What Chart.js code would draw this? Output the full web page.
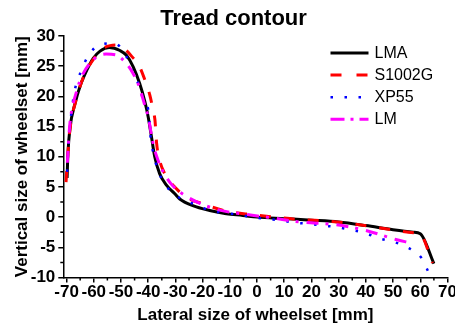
<!DOCTYPE html>
<html>
<head>
<meta charset="utf-8">
<script src="https://cdn.jsdelivr.net/npm/chart.js@4.4.0/dist/chart.umd.min.js"></script>
<style>
    html, body { margin: 0; padding: 0; background: #fff; }
    #wrap { width: 455px; height: 325px; position: relative; }
</style>
</head>
<body>
<div id="wrap"><canvas id="chart"></canvas></div>
<script>
const X_TICKS = [-70, -60, -50, -40, -30, -20, -10, 0, 10, 20, 30, 40, 50, 60, 70];
const Y_TICKS = [-10, -5, 0, 5, 10, 15, 20, 25, 30];

// values, lateral [mm] / vertical [mm]
const LMA_X = [-69.8, -69.5, -68.7, -66.9, -65.1, -62.6, -60.2, -57.7, -54.3, -50.4, -48.0, -45.5, -43.1, -41.2, -40.0, -38.8, -37.6, -35.8, -33.3, -30.3, -28.4, -23.6, -17.4, -11.3, -5.2, 0, 10, 20, 30, 40, 50, 57.4, 60, 65];
const LMA_Y = [6.5, 10.5, 14.9, 18.8, 21.6, 24.3, 26.3, 27.5, 28.1, 27.6, 26.8, 24.9, 22.1, 19.1, 16.6, 13.3, 10.0, 7.2, 5.3, 3.9, 3.0, 1.9, 1.1, 0.56, 0.28, 0, -0.25, -0.5, -0.8, -1.4, -2.1, -2.5, -2.75, -7.7];

const S1002G_X = [-70.2, -69.6, -68.7, -66.5, -63.8, -60.8, -57.1, -54.0, -51.0, -48.0, -45.8, -43.7, -41.2, -39.4, -38.2, -37.5, -36.9, -35.8, -33.9, -29.6, -26.0, -19.9, -11.3, -1.6, 6.4, 15.5, 22.9, 33.2, 41.2, 51.0, 57.5, 60.0, 64.5];
const S1002G_Y = [5.8, 10.0, 14.7, 19.4, 23.2, 25.7, 27.8, 28.4, 28.5, 27.6, 26.5, 25.4, 22.7, 20.2, 17.7, 16.0, 12.2, 9.4, 7.2, 4.7, 3.3, 2.2, 1.0, 0.4, 0.0, -0.4, -0.55, -1.0, -1.5, -2.2, -2.6, -2.8, -7.6];

const XP55_X = [-69.8, -69.3, -68.3, -66.6, -64.8, -62.2, -57.5, -52.6, -48.0, -45.8, -42.7, -41.9, -39.7, -39.4, -37.6, -36.0, -33.1, -27.8, -22.6, -17.4, -12.2, -6.8, -1.6, 3.6, 8.8, 14.0, 18.9, 24.1, 29.3, 34.5, 39.7, 44.8, 50.1, 55.2, 60.5, 63.1];
const XP55_Y = [7.5, 12.0, 17.0, 21.8, 24.0, 26.6, 28.6, 28.8, 26.6, 24.0, 21.0, 19.4, 17.1, 14.6, 9.7, 7.3, 5.0, 3.0, 2.1, 1.1, 0.7, 0.4, 0, -0.3, -0.55, -0.93, -1.1, -1.4, -1.65, -2.1, -2.65, -3.5, -4.1, -5.0, -6.8, -9.2];

const LM_X = [-69.7, -69.2, -68.7, -66.2, -64.2, -59.6, -55.5, -52.0, -48.5, -45.3, -43.7, -40.9, -40.0, -38.2, -37.0, -34.5, -31.2, -25.4, -15.0, -4.0, 5.2, 15.5, 29.0, 40.0, 51.0, 56.5];
const LM_Y = [9.0, 13.0, 15.8, 21.0, 23.5, 26.3, 27.0, 26.9, 25.7, 23.6, 22.1, 18.0, 16.6, 12.2, 10.2, 7.5, 5.3, 3.3, 1.3, 0.45, -0.1, -0.8, -1.26, -2.2, -3.7, -4.3];

const FONT = '"Liberation Sans", Arial, sans-serif';

function points(xs, ys) {
    return xs.map((x, i) => ({ x, y: ys[i] }));
}

// Origin-style minor ticks halfway between the labelled ones
const minorTicks = {
    id: 'minorTicks',
    afterDraw(chart) {
        const { ctx, chartArea, scales } = chart;
        ctx.save();
        ctx.strokeStyle = '#000';
        ctx.lineWidth = 1.5;
        ctx.beginPath();
        for (let i = 0; i < X_TICKS.length - 1; i++) {
            const px = scales.x.getPixelForValue((X_TICKS[i] + X_TICKS[i + 1]) / 2);
            ctx.moveTo(px, chartArea.bottom);
            ctx.lineTo(px, chartArea.bottom + 3);
        }
        for (let i = 0; i < Y_TICKS.length - 1; i++) {
            const py = scales.y.getPixelForValue((Y_TICKS[i] + Y_TICKS[i + 1]) / 2);
            ctx.moveTo(chartArea.left, py);
            ctx.lineTo(chartArea.left - 3, py);
        }
        ctx.stroke();
        ctx.restore();
    },
};

// legend sits inside the plot, top right
const insideLegend = {
    id: 'insideLegend',
    afterDraw(chart) {
        const { ctx, chartArea } = chart;
        const x0 = chartArea.right - 117;
        ctx.save();
        ctx.font = `16px ${FONT}`;
        ctx.textBaseline = 'middle';
        chart.data.datasets.forEach((ds, i) => {
            const y = chartArea.top + 17 + i * 22.1;
            ctx.strokeStyle = ds.borderColor;
            ctx.lineWidth = ds.borderWidth;
            ctx.setLineDash(ds.legendDash || []);
            ctx.beginPath();
            ctx.moveTo(x0, y);
            ctx.lineTo(x0 + 38, y);
            ctx.stroke();
            ctx.setLineDash([]);
            ctx.fillStyle = '#000';
            ctx.fillText(ds.label, x0 + 44, y + 0.5);
        });
        ctx.restore();
    },
};

const axisBase = {
    type: 'linear',
    border: { display: true, color: '#000', width: 1.5 },
    grid: { display: true, drawOnChartArea: false, drawTicks: true, tickLength: 5, color: '#000', lineWidth: 1.5 },
};

new Chart(document.getElementById('chart'), {
    type: 'line',
    data: {
        datasets: [
            {
                label: 'LMA', data: points(LMA_X, LMA_Y), order: 4,
                borderColor: '#000000', borderWidth: 3, legendDash: [],
            },
            {
                label: 'S1002G', data: points(S1002G_X, S1002G_Y), order: 3,
                borderColor: '#ff0000', borderWidth: 3, borderDash: [11, 13], legendDash: [11, 15],
            },
            {
                label: 'XP55', data: points(XP55_X, XP55_Y), order: 2,
                borderColor: '#0000ff', borderWidth: 2.5, borderDash: [2.5, 11.5], legendDash: [2.5, 11.5],
            },
            {
                label: 'LM', data: points(LM_X, LM_Y), order: 1,
                borderColor: '#ff00ff', borderWidth: 3, borderDash: [12, 7, 3, 8], legendDash: [14, 6, 3, 6],
            },
        ].map((ds) => ({
            pointRadius: 0,
            fill: false,
            cubicInterpolationMode: 'monotone',
            ...ds,
        })),
    },
    options: {
        responsive: true,
        maintainAspectRatio: false,
        animation: false,
        layout: { padding: { left: 12, right: 0, top: 0, bottom: 0 } },
        plugins: {
            legend: { display: false },
            tooltip: { enabled: false },
            title: {
                display: true,
                text: 'Tread contour',
                color: '#000',
                font: { family: FONT, size: 22, weight: 'bold' },
                padding: { top: 6, bottom: 3.6 },
            },
        },
        scales: {
            x: {
                ...axisBase,
                min: -71.2,
                max: 70,
                afterBuildTicks: (scale) => { scale.ticks = X_TICKS.map((v) => ({ value: v })); },
                afterFit: (scale) => {
                    scale.height = 47.5;
                    scale.paddingLeft = 0;
                    scale.paddingRight = 7.5;
                },
                ticks: {
                    autoSkip: false, maxRotation: 0, padding: 0, color: '#000',
                    font: { family: FONT, size: 17, weight: 'bold' },
                },
                title: {
                    display: true,
                    text: 'Lateral size of wheelset [mm]',
                    color: '#000',
                    font: { family: FONT, size: 17, weight: 'bold', lineHeight: 1.1 },
                    padding: 0,
                },
            },
            y: {
                ...axisBase,
                min: -10,
                max: 30,
                afterBuildTicks: (scale) => { scale.ticks = Y_TICKS.map((v) => ({ value: v })); },
                afterFit: (scale) => {
                    scale.width = 51.3;
                    scale.paddingTop = 0;
                    scale.paddingBottom = 0;
                },
                ticks: {
                    padding: 3, color: '#000',
                    font: { family: FONT, size: 17, weight: 'bold' },
                },
                title: {
                    display: true,
                    text: 'Vertical size of wheelset [mm]',
                    color: '#000',
                    font: { family: FONT, size: 17, weight: 'bold' },
                    padding: 0,
                },
            },
        },
    },
    plugins: [minorTicks, insideLegend],
});
</script>
</body>
</html>
